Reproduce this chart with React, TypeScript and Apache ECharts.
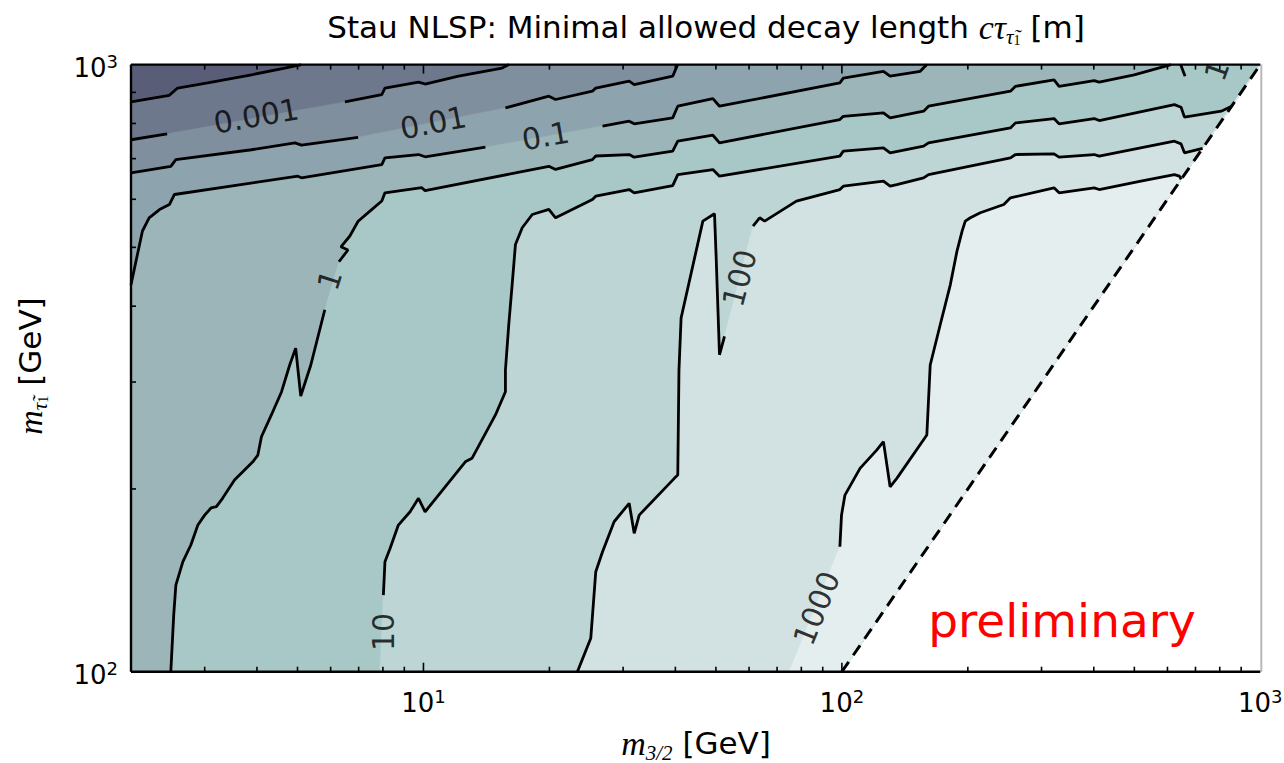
import React, { useEffect, useRef } from "react";
import * as echarts from "echarts";

type Pt = [number, number] | null;

// ---- contour lines (x = m_3/2 [GeV], y = m_stau [GeV]); null = gap under an inline label ----
const cont1e4: Pt[] = [[2.0, 868], [2.47, 890], [2.585, 915], [3.05, 933], [3.88, 962], [4.66, 987], [5.11, 1000]];

const cont1e3: Pt[] = [[2.0, 752], [2.44, 769], null, [6.49, 868], [7.95, 892], [8.09, 915], [9.73, 936], [10.09, 929], [12.13, 957], [15.42, 987], [16.0, 1000]];

const cont1e2: Pt[] = [[2.0, 663], [2.49, 680], [2.56, 697.5], [3.88, 724], [4.93, 743], [5.11, 737], [6.98, 759], null,
  [15.7, 848.5], [19.94, 887], [20.69, 876], [25.34, 904], [25.81, 915], [31.02, 939], [31.89, 927], [39.42, 957], [40.5, 1000]];

const cont1e1: Pt[] = [[2.0, 434], [2.13, 532], [2.21, 559], [2.34, 577], [2.47, 588], [2.54, 611], [5.01, 655], [5.11, 651],
  [7.95, 684], [8.09, 702], [9.73, 711], [10.09, 705], [14.06, 731], null,
  [26.79, 792], [31.02, 807], [31.89, 799], [39.42, 817], [40.53, 854], [49.18, 879], [50.99, 854], [98.9, 933], [100.8, 950],
  [125.7, 975], [130.4, 957], [153.9, 975], [159.6, 1000]];

const cont1: Pt[] = [[2.49, 100], [2.53, 123.9], [2.56, 138.9], [2.66, 151.7], [2.78, 161.7], [2.89, 174.4], [3.0, 181.1], [3.11, 186.2],
  [3.2, 187.0], [3.31, 193.0], [3.535, 206.9], [3.91, 221.7], [4.02, 227.4], [4.1, 243.8], [4.33, 264.8], [4.58, 289.2], [4.79, 320],
  [4.95, 341.2], [5.09, 284.5], [5.38, 320], [5.81, 394.6], null,
  [6.28, 473.4], [6.6, 495], [6.35, 501], [6.67, 522], [6.98, 552], [7.52, 577], [7.95, 596], [8.09, 615], [9.91, 627], [10.09, 620],
  [16.59, 663], [19.94, 680], [20.69, 672], [25.34, 697.5], [25.81, 707], [31.02, 711], [31.89, 704], [39.42, 720], [40.53, 748],
  [49.18, 765], [50.99, 743], [98.9, 812], [100.8, 822], [125.7, 833], [130.4, 817], [156.8, 838], [161.1, 854], [252.9, 904],
  [260, 921], [321.4, 944], [330.4, 921], [400.9, 941], [412.1, 936], [499.6, 962], [611.8, 1000]];

const cont1Corner: Pt[] = [[645, 1000], [661, 957]];

const cont10: Pt[] = [[7.87, 100], null, [8.02, 133.7], [8.09, 151.7], [8.32, 159.6], [8.71, 174.4], [9.29, 183.4], [9.73, 193.0],
  [10.09, 183.4], [12.59, 221.7], [13.06, 224.6], [14.86, 264.8], [15.7, 289.2], [15.7, 314], [15.99, 372.8], [16.29, 433.8],
  [16.59, 505.5], [17.22, 538.6], [18.2, 566.4], [19.94, 577.3], [20.69, 559.4], [25.34, 599.5], [25.81, 607.2], [31.02, 622.6],
  [31.89, 614.9], [39.42, 632.1], [40.53, 659.0], [49.18, 671.6], [50.99, 655.0], [98.9, 706.6], [100.8, 720.2], [125.7, 729.2],
  [130.4, 715.5], [156.8, 733.9], [161.1, 743.0], [252.9, 786.6], [260.0, 801.7], [321.4, 814.9], [330.4, 798.6], [400.9, 814.9],
  [412.1, 808.8], [623.3, 859.2], [646.6, 850.8], [658.8, 819.3], [806.3, 838.0], [854, 854]];

const cont100: Pt[] = [[23.33, 100], [25.11, 113.5], [25.81, 146.1], [26.79, 157.6], [28.55, 176.6], [31.02, 189.4], [31.89, 169.0],
  [32.78, 181.1], [39.77, 208.2], [40.53, 210.8], [40.8, 314], [41.28, 382.4], [46.53, 552.4], [49.61, 568], [50.07, 480.6],
  [50.99, 332.7], [52.42, 356.7], null,
  [61.32, 542.1], [63.6, 559.4], [65.37, 552.4], [77.87, 595.9], [98.9, 622.6], [100.8, 630.6], [125.7, 642.6], [130.4, 630.6],
  [135.3, 634.4], [156.8, 650.8], [161.1, 659.0], [252.9, 702.0], [260.0, 711.0], [321.4, 712.8], [330.4, 703.9], [400.9, 711.0],
  [412.1, 706.6], [623.3, 747.8], [646.6, 740.3], [658.8, 715.5], [728, 728]];

const cont1000: Pt[] = [[74.9, 100], null, [98.9, 160.6], [99.8, 181.1], [101.7, 195.4], [110.5, 216.2], [121.1, 231.7], [125.7, 239.3],
  [130.4, 201.6], [135.3, 208.2], [159.6, 245.4], [162.6, 320], [171.8, 372.8], [181.6, 433.8], [188.4, 492.9], [193.8, 531.9],
  [197.2, 552.4], [202.8, 559.4], [214.2, 570.1], [243.8, 588.3], [252.9, 603.3], [321.4, 626.6], [330.4, 614.9], [400.9, 626.6],
  [412.1, 622.6], [518.2, 642.6], [623.3, 659.0], [640.8, 655.0], [647, 647]];

// m_stau = m_3/2 boundary
const diagonal: [number, number][] = [[100, 100], [1000, 1000]];

// inline contour labels
const labelTexts = ["0.001", "0.01", "0.1", "1", "10", "100", "1000", "1"];
const labelAnchors: [number, number][] = [[3.985, 823], [10.55, 802], [19.58, 763], [5.97, 442], [8.02, 116.3], [56.95, 445], [87, 127.2], [787, 978]];
const labelAngles = [10, 11, 10, 72, 90, 75, 68, 70];

// ticks
const majorLabelsX = [10, 100, 1000];
const majorLabelsY = [100, 1000];
const minorTicksX = [3, 4, 5, 6, 7, 8, 9, 20, 30, 40, 50, 60, 70, 80, 90, 200, 300, 400, 500, 600, 700, 800, 900];
const majorTicksX = [10, 100];
const minorTicksY = [200, 300, 400, 500, 600, 700, 800, 900];

// band colours from lowest (< 1e-4) to highest (> 1000)
const bandColors = ["#5a5d78", "#6e788c", "#7f8f9e", "#8da3ad", "#9bb5b9", "#a8c8c7", "#bdd5d5", "#d2e2e2", "#e5eeee"];

export default function App() {
  const ref = useRef<HTMLDivElement>(null);
  useEffect(() => {
    document.body.style.margin = "0";
    const chart = echarts.init(ref.current!, null, { renderer: "svg" });
    const contours = [cont1e4, cont1e3, cont1e2, cont1e1, cont1, cont10, cont100, cont1000];
    const corners: [number, number][] = [[1000, 1000], [100, 100], [2, 100]];
    const basePoly: [number, number][] = [[2, 100], [100, 100], [1000, 1000], [2, 1000]];
    const polys: [number, number][][] = [basePoly, ...contours.map((c) => [...(c.filter((p) => p !== null) as [number, number][]), ...corners])];

    const segs: [number, number][][] = [];
    [...contours, cont1Corner].forEach((c) => {
      let cur: [number, number][] = [];
      c.forEach((p) => {
        if (p === null) {
          if (cur.length > 1) segs.push(cur);
          cur = [];
        } else cur.push(p);
      });
      if (cur.length > 1) segs.push(cur);
    });

    const powText = (v: number) => `{b|10}{s|${Math.round(Math.log10(v))}}`;
    const tickRich = {
      b: { fontSize: 26, fontFamily: "DejaVu Sans", fill: "#000", lineHeight: 30 },
      s: { fontSize: 18, fontFamily: "DejaVu Sans", fill: "#000", lineHeight: 16, verticalAlign: "top" },
    };

    const lineSeries = segs.map((s) => ({
      type: "line",
      data: s,
      showSymbol: false,
      symbol: "none",
      lineStyle: { color: "#000", width: 2.8 },
      z: 3,
      silent: true,
    }));

    const mathRich = {
      n: { fontFamily: "DejaVu Sans", fontSize: 31, lineHeight: 40, fill: "#000" },
      i: { fontFamily: "Liberation Serif", fontStyle: "italic", fontSize: 34, lineHeight: 40, fill: "#000" },
      s: { fontFamily: "Liberation Serif", fontStyle: "italic", fontSize: 21, lineHeight: 22, verticalAlign: "bottom", fill: "#000" },
      s2: { fontFamily: "Liberation Serif", fontSize: 14, lineHeight: 12, verticalAlign: "bottom", fill: "#000" },
    };

    const axisCommon = {
      axisLine: { show: false },
      axisTick: { show: false },
      splitLine: { show: false },
      axisLabel: { show: false },
    };

    chart.setOption({
      animation: false,
      backgroundColor: "#fff",
      grid: { left: 131, top: 64.6, width: 1129.3, height: 607.1, containLabel: false, outerBoundsMode: "none" },
      xAxis: { type: "log", logBase: 10, min: 2, max: 1000, ...axisCommon },
      yAxis: { type: "log", logBase: 10, min: 100, max: 1000, ...axisCommon },
      graphic: [
        {
          type: "text",
          x: 706,
          y: 27,
          style: {
            text: "{n|Stau NLSP: Minimal allowed decay length }{i|c\u03C4}{s|\u03C4\u0303}{s2|1}{n| [m]}",
            rich: mathRich,
            align: "center",
            verticalAlign: "middle",
          },
        },
        {
          type: "text",
          x: 696,
          y: 743,
          style: { text: "{i|m}{s|3/2}{n| [GeV]}", rich: mathRich, align: "center", verticalAlign: "middle" },
        },
        {
          type: "text",
          x: 30,
          y: 366,
          rotation: Math.PI / 2,
          style: { text: "{i|m}{s|\u03C4\u0303}{s2|1}{n| [GeV]}", rich: mathRich, align: "center", verticalAlign: "middle" },
        },
        {
          type: "text",
          x: 1062,
          y: 620,
          z: 100,
          style: { text: "preliminary", fontFamily: "DejaVu Sans", fontSize: 47, fill: "#ff0000", align: "center", verticalAlign: "middle" },
        },
      ],
      series: [
        {
          type: "custom",
          silent: true,
          z: 1,
          data: polys.map((_, i) => [2, 100, i]),
          renderItem: (params: any, api: any) => {
            const i = params.dataIndex;
            return {
              type: "polygon",
              shape: { points: polys[i].map((p) => api.coord(p)) },
              style: { fill: bandColors[i], stroke: bandColors[i], lineWidth: 0.6 },
            };
          },
        },
        ...lineSeries,
        {
          type: "line",
          data: diagonal,
          showSymbol: false,
          symbol: "none",
          lineStyle: { color: "#000", width: 3, type: [12, 8] },
          z: 4,
          silent: true,
        },
        {
          type: "scatter",
          symbolSize: 0,
          z: 6,
          silent: true,
          data: labelTexts.map((t, i) => ({ value: labelAnchors[i], label: { formatter: t, rotate: labelAngles[i] } })),
          label: { show: true, position: "inside", fontSize: 30, fontFamily: "DejaVu Sans", color: "#000" },
        },
        {
          type: "custom",
          silent: true,
          z: 10,
          clip: false,
          data: [[2, 100]],
          renderItem: (_params: any, api: any) => {
            const [l, b] = api.coord([2, 100]);
            const [r, t] = api.coord([1000, 1000]);
            const children: any[] = [];
            const ln = (x1: number, y1: number, x2: number, y2: number, stroke = "#000", w = 1.6) =>
              children.push({ type: "line", shape: { x1, y1, x2, y2 }, style: { stroke, lineWidth: w } });
            minorTicksX.forEach((v) => {
              const x = api.coord([v, 100])[0];
              ln(x, b, x, b - 5);
              ln(x, t, x, t + 5);
            });
            majorTicksX.forEach((v) => {
              const x = api.coord([v, 100])[0];
              ln(x, b, x, b - 9);
              ln(x, t, x, t + 9);
            });
            minorTicksY.forEach((v) => {
              const y = api.coord([2, v])[1];
              ln(l, y, l + 5, y);
            });
            ln(r + 1, t, r + 1, b, "#b8b8b8", 2);
            ln(l, t, r, t, "#000", 2.4);
            ln(l, b, r, b, "#000", 2.4);
            ln(l, t, l, b, "#000", 2.4);
            majorLabelsX.forEach((v) => {
              const x = api.coord([v, 100])[0];
              children.push({
                type: "text",
                x,
                y: b + 16,
                style: { text: powText(v), rich: tickRich, align: "center", verticalAlign: "top" },
              });
            });
            majorLabelsY.forEach((v) => {
              const y = api.coord([2, v])[1];
              children.push({
                type: "text",
                x: l - 13,
                y: y + 3,
                style: { text: powText(v), rich: tickRich, align: "right", verticalAlign: "middle" },
              });
            });
            return { type: "group", children };
          },
        },
      ],
    });
    return () => chart.dispose();
  }, []);
  return <div ref={ref} style={{ width: 1284, height: 763 }} />;
}
